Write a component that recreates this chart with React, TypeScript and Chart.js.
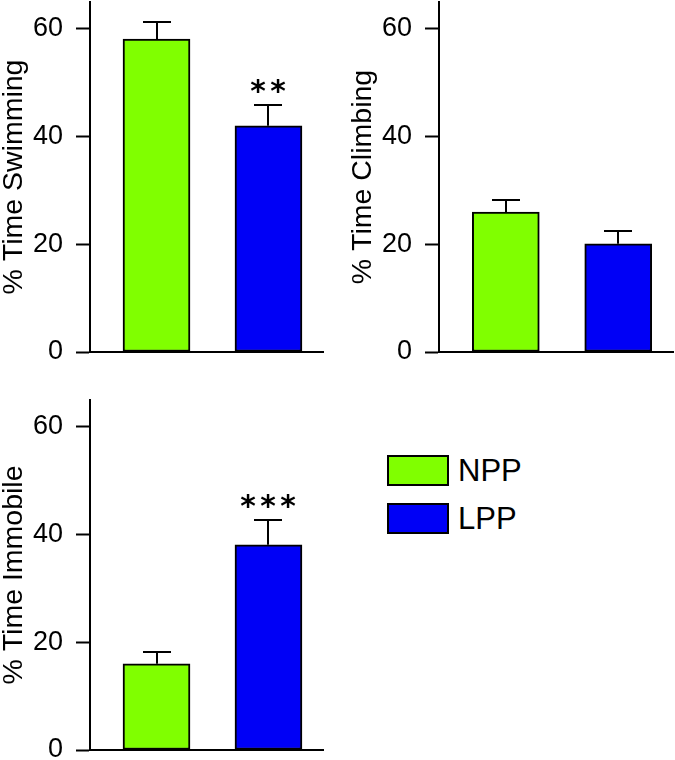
import React, { useEffect, useRef } from "react";
import { Chart, registerables } from "chart.js";

Chart.register(...registerables);

// ---- data ----
const groups = ["NPP", "LPP"];
const groupColors = ["#80FF00", "#0000F6"];
const yTicks = [0, 20, 40, 60];
const yMax = 65;

const swimTitle = "% Time Swimming";
const swimMeans = [58.1, 42.0];
const swimErrors = [3.1, 3.9];
const swimStars = ["", "**"];

const climbTitle = "% Time Climbing";
const climbMeans = [26.0, 20.1];
const climbErrors = [2.2, 2.4];
const climbStars = ["", ""];

const immobileTitle = "% Time Immobile";
const immobileMeans = [16.0, 38.1];
const immobileErrors = [2.2, 4.6];
const immobileStars = ["", "***"];

const FONT = '"Liberation Sans", Arial, Helvetica, sans-serif';
const STAR_FONT = '"DejaVu Sans", sans-serif';
const X_MIN = 0.406;
const X_MAX = 2.487;

type Layout = {
  left: number;
  top: number;
  width: number;
  height: number;
  padTop: number;
  padRight: number;
  xHeight: number;
};

function BarPanel(props: {
  title: string;
  means: number[];
  errors: number[];
  stars: string[];
  layout: Layout;
}) {
  const { title, means, errors, stars, layout } = props;
  const ref = useRef<HTMLCanvasElement>(null);

  useEffect(() => {
    if (!ref.current) return;
    const errorPlugin = {
      id: "errorBars",
      afterDatasetsDraw(chart: any) {
        const ctx = chart.ctx as CanvasRenderingContext2D;
        const meta = chart.getDatasetMeta(0);
        const yScale = chart.scales.y;
        ctx.save();
        ctx.strokeStyle = "#000";
        ctx.lineWidth = 2;
        meta.data.forEach((bar: any, i: number) => {
          const x = Math.round(bar.x);
          const yTop = yScale.getPixelForValue(means[i]);
          const yErr = Math.round(yScale.getPixelForValue(means[i] + errors[i]));
          ctx.beginPath();
          ctx.moveTo(x, yTop);
          ctx.lineTo(x, yErr);
          ctx.moveTo(x - 14, yErr);
          ctx.lineTo(x + 14, yErr);
          ctx.stroke();
          const s = stars[i];
          if (s) {
            ctx.fillStyle = "#000";
            ctx.font = `bold 100px ${STAR_FONT}`;
            const m0 = ctx.measureText("*");
            const h0 = m0.actualBoundingBoxAscent + m0.actualBoundingBoxDescent;
            const size = (100 * 14) / (h0 || 30);
            ctx.font = `bold ${size}px ${STAR_FONT}`;
            ctx.textAlign = "center";
            ctx.textBaseline = "alphabetic";
            const m = ctx.measureText("*");
            const cy = yErr - 19;
            const baseY = cy + (m.actualBoundingBoxAscent - m.actualBoundingBoxDescent) / 2;
            for (let k = 0; k < s.length; k++) {
              const sx = x + (k - (s.length - 1) / 2) * 20;
              ctx.fillText("*", sx, baseY);
            }
          }
        });
        ctx.restore();
      },
    };

    const chart = new Chart(ref.current, {
      type: "bar",
      data: {
        datasets: [
          {
            label: title,
            data: means.map((v, i) => ({ x: i + 1, y: v })),
            backgroundColor: groupColors,
            borderColor: "#000",
            borderWidth: 2,
            borderSkipped: false,
            barThickness: 67,
          } as any,
        ],
      },
      options: {
        responsive: false,
        animation: false,
        devicePixelRatio: 1,
        layout: {
          padding: { top: layout.padTop, right: layout.padRight, left: 0, bottom: 0 },
        },
        plugins: {
          legend: { display: false },
          tooltip: { enabled: false },
        },
        scales: {
          x: {
            type: "linear",
            min: X_MIN,
            max: X_MAX,
            offset: false,
            grid: { display: false, offset: false },
            ticks: { display: false },
            border: { display: true, color: "#000", width: 2 },
            afterFit: (s: any) => {
              s.height = layout.xHeight;
              s.paddingLeft = 0;
              s.paddingRight = 0;
            },
          },
          y: {
            type: "linear",
            min: 0,
            max: yMax,
            afterBuildTicks: (s: any) => {
              s.ticks = yTicks.map((v) => ({ value: v }));
            },
            ticks: {
              color: "#000",
              font: { family: FONT, size: 27 },
              padding: 13,
            },
            grid: {
              drawOnChartArea: false,
              drawTicks: true,
              tickLength: 14,
              tickWidth: 2,
              tickColor: "#000",
            },
            border: { display: true, color: "#000", width: 2 },
            title: {
              display: true,
              text: title,
              color: "#000",
              font: { family: FONT, size: 28.5, lineHeight: 1 },
              padding: 0,
            },
            afterFit: (s: any) => {
              s.width = 90;
              s.paddingTop = 0;
              s.paddingBottom = 0;
            },
          },
        },
      } as any,
      plugins: [errorPlugin],
    });
    return () => chart.destroy();
  }, []);

  return (
    <canvas
      ref={ref}
      width={layout.width}
      height={layout.height}
      style={{
        position: "absolute",
        left: layout.left,
        top: layout.top,
        width: layout.width,
        height: layout.height,
      }}
    />
  );
}

export default function App() {
  return (
    <div
      style={{
        position: "absolute",
        left: 0,
        top: 0,
        width: 675,
        height: 760,
        background: "#fff",
        overflow: "hidden",
        fontFamily: FONT,
      }}
    >
      <BarPanel
        title={swimTitle}
        means={swimMeans}
        errors={swimErrors}
        stars={swimStars}
        layout={{ left: 0, top: 0, width: 330, height: 370, padTop: 2, padRight: 7, xHeight: 18 }}
      />
      <BarPanel
        title={climbTitle}
        means={climbMeans}
        errors={climbErrors}
        stars={climbStars}
        layout={{ left: 349, top: 0, width: 326, height: 370, padTop: 2, padRight: 2, xHeight: 18 }}
      />
      <BarPanel
        title={immobileTitle}
        means={immobileMeans}
        errors={immobileErrors}
        stars={immobileStars}
        layout={{ left: 0, top: 370, width: 330, height: 390, padTop: 30, padRight: 7, xHeight: 10 }}
      />
      {groups.map((g, i) => (
        <React.Fragment key={g}>
          <div
            style={{
              position: "absolute",
              left: 387,
              top: 455 + i * 48,
              width: 62,
              height: 31,
              boxSizing: "border-box",
              border: "2px solid #000",
              background: groupColors[i],
            }}
          />
          <div
            style={{
              position: "absolute",
              left: 458,
              top: 455 + i * 48,
              height: 31,
              lineHeight: "31px",
              fontSize: 31,
              color: "#000",
              whiteSpace: "nowrap",
            }}
          >
            {g}
          </div>
        </React.Fragment>
      ))}
    </div>
  );
}
